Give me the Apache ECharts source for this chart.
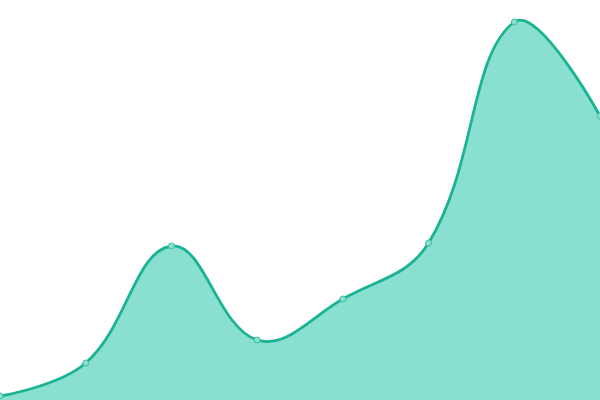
<!DOCTYPE html>
<html><head><meta charset="utf-8">
<script src="https://cdn.jsdelivr.net/npm/echarts@6/dist/echarts.min.js"></script>
<style>html,body{margin:0;padding:0;background:#fff}#c{width:600px;height:400px}</style>
</head><body><div id="c"></div>
<script>
const categories = ['1','2','3','4','5','6','7','8'];
const values = [4, 37, 154, 60, 101, 157, 378, 284];
const SMOOTH = 0.4;
const LINE = '#1ab394', FILL = '#8ae0d0';

function buildPath(pts, bottom) {
  const n = pts.length;
  const cps = [];
  for (let i = 0; i < n; i++) {
    const p = pts[i];
    if (i === 0 || i === n - 1) { cps.push([p.slice(), p.slice()]); continue; }
    const a = pts[i - 1], b = pts[i + 1];
    const vx = (b[0] - a[0]) * SMOOTH, vy = (b[1] - a[1]) * SMOOTH;
    let d0 = Math.hypot(p[0] - a[0], p[1] - a[1]);
    let d1 = Math.hypot(p[0] - b[0], p[1] - b[1]);
    const s = d0 + d1; d0 /= s; d1 /= s;
    cps.push([[p[0] - vx * d0, p[1] - vy * d0], [p[0] + vx * d1, p[1] + vy * d1]]);
  }
  let d = 'M' + pts[0][0] + ' ' + pts[0][1];
  for (let i = 0; i < n - 1; i++) {
    const c1 = cps[i][1], c2 = cps[i + 1][0], q = pts[i + 1];
    d += ' C' + c1[0] + ' ' + c1[1] + ' ' + c2[0] + ' ' + c2[1] + ' ' + q[0] + ' ' + q[1];
  }
  const line = d;
  const area = d + ' L' + pts[n - 1][0] + ' ' + bottom + ' L' + pts[0][0] + ' ' + bottom + ' Z';
  return { line, area };
}

const chart = echarts.init(document.getElementById('c'), null, {renderer:'canvas'});
chart.setOption({
  animation:false,
  grid:{left:0,right:0,top:0,bottom:0},
  xAxis:{type:'category',data:categories,boundaryGap:false,show:false},
  yAxis:{type:'value',min:0,max:400,show:false},
  series:[{
    type:'custom',
    data: values.map((v, i) => [i, v]),
    clip:false,
    renderItem: function (params, api) {
      if (params.dataIndex !== 0) return null;
      const pts = values.map((v, i) => api.coord([i, v]));
      const bottom = api.coord([0, 0])[1];
      const p = buildPath(pts, bottom);
      return { type:'group', children:[
        { type:'path', shape:{pathData:p.area}, style:{fill:FILL, stroke:null} },
        { type:'path', shape:{pathData:p.line}, style:{fill:null, stroke:LINE, lineWidth:2.8} }
      ]};
    }
  },{
    type:'line', data:values, z:3,
    symbol:'circle', symbolSize:6, showAllSymbol:true,
    lineStyle:{width:0, opacity:0},
    itemStyle:{color:FILL, borderColor:'#3cbfa3', borderWidth:1}
  }]
});
</script></body></html>
